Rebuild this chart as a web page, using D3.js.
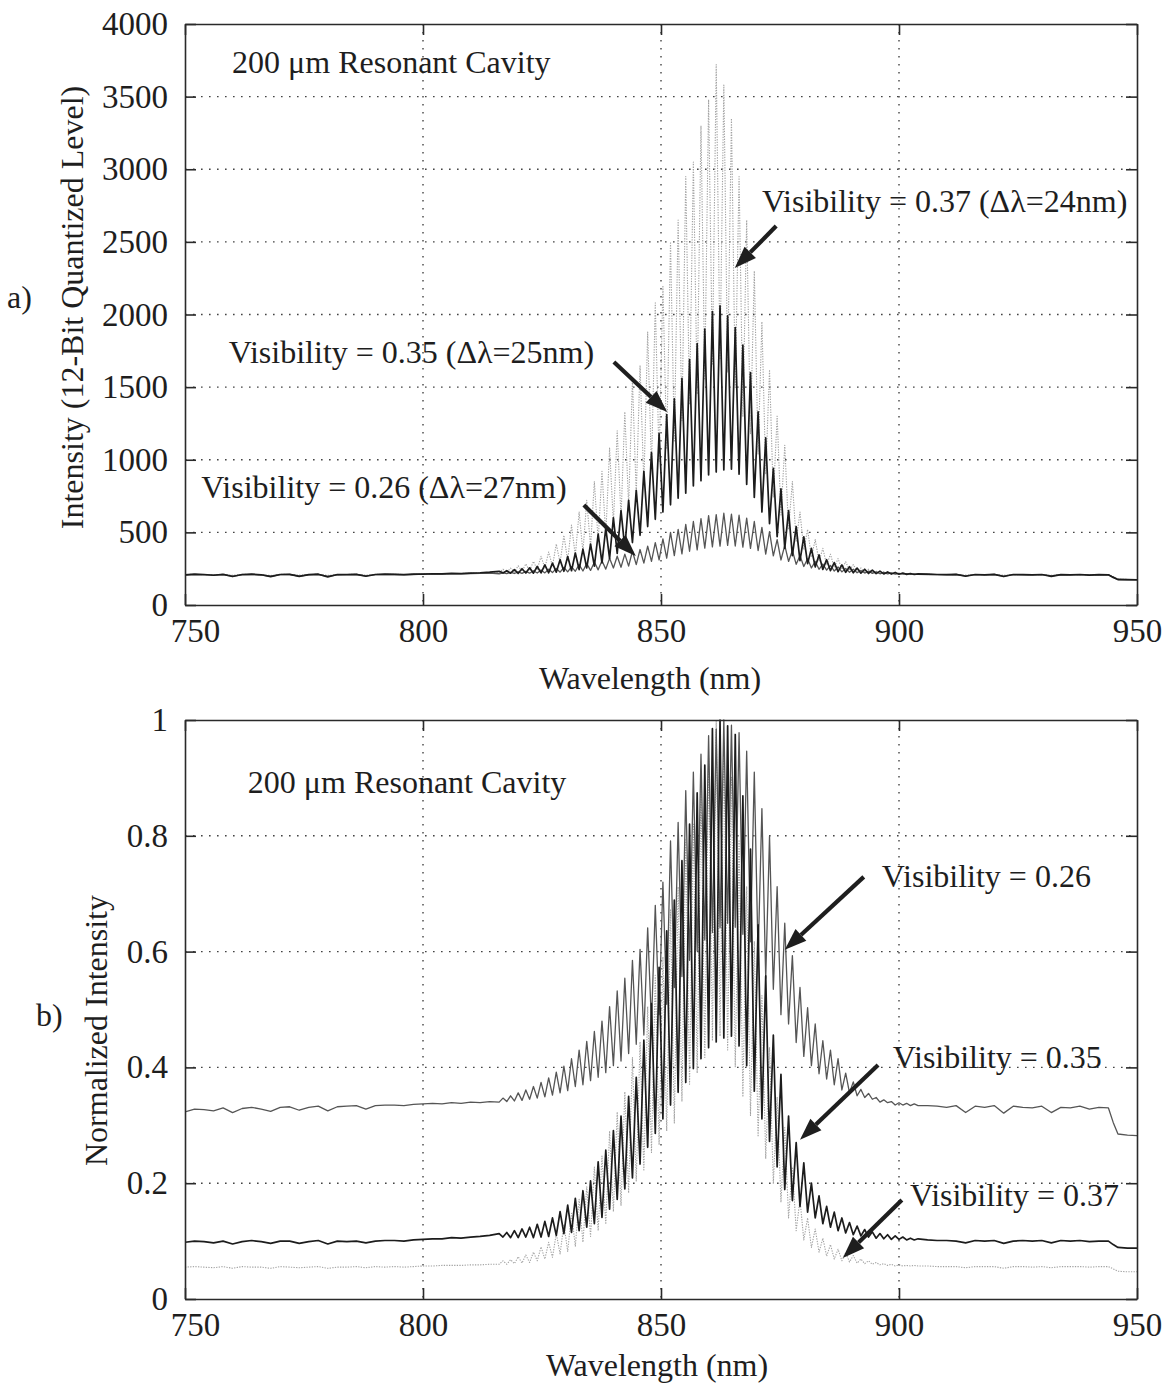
<!DOCTYPE html>
<html><head><meta charset="utf-8">
<script src="https://cdn.jsdelivr.net/npm/d3@7"></script>
<style>
body{margin:0;background:#fff;}
text{font-family:"Liberation Serif","Times New Roman",serif;fill:#1e1e1e;}
</style>
</head><body>
<svg id="chart" width="1173" height="1389"></svg>
<script>
// ---------------- DATA ----------------
const xTicks = [750, 800, 850, 900, 950];
const yTicksA = [0, 500, 1000, 1500, 2000, 2500, 3000, 3500, 4000];
const yTicksB = [0, 0.2, 0.4, 0.6, 0.8, 1];
const yTickLabelsB = ["0", "0.2", "0.4", "0.6", "0.8", "1"];

const nmLeft = [750,752,754,756,758,760,762,764,766,768,770,772,774,776,778,780,782,784,786,788,790,792,794,796,798,800,802,804,806,808,810,812,814];
const nmFringe = [816,816.8,817.6,818.4,819.2,820,820.8,821.6,822.4,823.2,824,824.8,825.6,826.4,827.2,828,828.8,829.6,830.4,831.2,832,832.8,833.6,834.4,835.2,836,836.8,837.6,838.4,839.2,840,840.8,841.6,842.4,843.2,844,844.8,845.6,846.4,847.2,848,848.8,849.6,850.4,851.2,852,852.8,853.6,854.4,855.2,856,856.8,857.6,858.4,859.2,860,860.8,861.6,862.4,863.2,864,864.8,865.6,866.4,867.2,868,868.8,869.6,870.4,871.2,872,872.8,873.6,874.4,875.2,876,876.8,877.6,878.4,879.2,880,880.8,881.6,882.4,883.2,884,884.8,885.6,886.4,887.2,888,888.8,889.6,890.4,891.2,892,892.8,893.6,894.4,895.2,896,896.8,897.6,898.4,899.2,900,900.8,901.6,902.4,903.2,904];
const nmRight = [906,908,910,912,914,916,918,920,922,924,926,928,930,932,934,936,938,940,942,944,945,946,948,950];

// Panel a) intensity (12-bit level)
const a035Left = [208,212,210,205,211,196,210,212,208,195,210,211,197,209,212,194,210,209,211,198,210,212,211,209,212,213,215,214,218,216,220,222,226];
const a035Fringe = [232,221,236,219,244,218,250,220,256,219,265,221,276,222,288,226,312,232,334,236,358,244,385,255,420,268,488,290,530,320,600,355,650,392,720,430,790,480,920,540,1050,590,1180,640,1310,690,1420,735,1560,770,1690,820,1800,855,1900,895,2020,915,2060,930,1990,935,1910,900,1790,830,1600,740,1330,640,1150,560,940,470,800,390,650,340,540,305,470,285,390,262,345,245,312,236,292,230,276,225,264,222,254,219,246,217,240,216,233,214,228,213,224,212,220,211,217,210,214];
const a035Right = [212,210,209,211,198,210,208,211,196,210,209,207,210,197,209,208,210,206,209,208,190,176,175,174];

const a037Left = [210,211,209,207,212,205,211,210,209,203,211,210,206,210,211,204,209,210,212,205,211,210,212,210,211,214,214,215,217,217,219,221,222];
const a037Fringe = [222,246,224,254,227,270,232,283,236,300,245,335,255,365,268,420,290,480,305,550,340,640,365,720,400,850,440,920,480,1080,560,1200,600,1330,680,1550,760,1650,830,1880,940,2080,990,2200,1080,2500,1130,2650,1270,2950,1380,3050,1450,3300,1550,3480,1660,3720,1690,3580,1600,3350,1490,2950,1300,2650,1180,2300,1040,1950,900,1620,740,1300,620,1100,520,850,440,640,380,520,330,450,300,390,275,350,258,320,245,298,238,278,232,255,226,246,222,235,218,228,215,222,213,218,212,216,211,214,211];
const a037Right = [211,210,210,209,206,210,209,210,205,209,210,208,209,205,210,209,209,207,208,208,196,178,176,175];

const a026Left = [206,209,208,206,209,199,208,210,207,198,209,210,199,208,210,197,208,209,210,200,209,210,210,208,210,212,213,213,215,215,217,218,220];
const a026Fringe = [215,222,216,225,217,228,218,232,219,236,220,241,221,246,223,252,226,258,228,264,232,278,234,285,238,295,242,305,247,322,255,336,260,350,268,370,278,382,288,405,300,430,310,455,322,500,340,520,352,555,370,575,380,595,392,615,400,622,405,632,410,626,406,618,398,598,390,575,375,535,350,505,338,450,310,410,300,375,280,340,265,318,255,300,246,282,240,272,234,262,228,252,225,246,222,238,220,233,218,228,215,224,214,221,212,218,212,216,211,215,211];
const a026Right = [210,209,208,210,200,209,208,210,199,209,208,207,209,200,208,207,209,206,208,207,192,174,173,172];

// Panel b) normalized intensity
const b026Left = [.323,.328,.327,.325,.330,.322,.329,.331,.328,.324,.331,.332,.326,.331,.333,.325,.332,.333,.334,.328,.334,.335,.335,.334,.336,.337,.338,.337,.339,.338,.340,.339,.341];
const b026Fringe = [.340,.347,.341,.351,.342,.356,.343,.361,.345,.367,.347,.374,.349,.382,.352,.392,.356,.402,.360,.415,.367,.430,.370,.445,.377,.462,.383,.480,.391,.505,.403,.532,.411,.554,.424,.585,.440,.604,.456,.641,.475,.680,.491,.720,.509,.791,.538,.823,.557,.878,.585,.910,.601,.941,.620,.973,.633,.984,.641,1.0,.649,.991,.642,.978,.630,.946,.617,.910,.593,.847,.554,.799,.535,.712,.491,.649,.475,.593,.443,.538,.419,.503,.403,.475,.389,.446,.380,.430,.370,.415,.361,.390,.356,.375,.351,.362,.348,.355,.345,.348,.340,.344,.339,.341,.335,.339,.335,.338,.334,.337,.334];
const b026Right = [.334,.333,.331,.334,.322,.333,.331,.334,.321,.333,.331,.330,.333,.322,.331,.330,.333,.328,.331,.330,.305,.285,.283,.282];

const b035Left = [.098,.100,.099,.097,.100,.095,.099,.101,.099,.096,.100,.100,.096,.099,.101,.095,.100,.099,.100,.097,.100,.101,.101,.100,.102,.103,.104,.104,.106,.105,.107,.108,.110];
const b035Fringe = [.113,.107,.115,.106,.118,.106,.121,.107,.124,.106,.129,.107,.134,.108,.140,.110,.151,.113,.162,.115,.174,.118,.187,.124,.204,.130,.237,.141,.257,.155,.291,.172,.316,.190,.350,.209,.383,.233,.447,.262,.510,.286,.573,.311,.636,.335,.689,.357,.757,.374,.820,.398,.874,.415,.922,.434,.985,.444,1.0,.451,.990,.454,.975,.437,.869,.403,.777,.359,.646,.311,.558,.272,.456,.228,.388,.189,.316,.170,.270,.160,.235,.150,.200,.140,.178,.130,.160,.124,.150,.118,.140,.114,.132,.111,.126,.109,.120,.107,.116,.105,.113,.104,.111,.103,.109,.103,.107,.102,.105,.102,.104];
const b035Right = [.102,.101,.101,.100,.097,.101,.100,.101,.096,.100,.101,.100,.101,.097,.101,.100,.101,.099,.100,.100,.094,.089,.088,.088];

const b037Left = [.055,.056,.055,.054,.056,.053,.056,.055,.055,.053,.056,.055,.054,.055,.056,.053,.055,.055,.056,.054,.056,.055,.056,.055,.056,.057,.057,.058,.058,.058,.059,.059,.060];
const b037Fringe = [.060,.066,.060,.068,.061,.073,.062,.076,.063,.081,.066,.090,.069,.098,.072,.113,.078,.129,.082,.148,.091,.172,.098,.194,.108,.228,.118,.247,.129,.290,.151,.323,.161,.358,.183,.417,.204,.444,.223,.505,.253,.559,.266,.591,.290,.672,.304,.712,.341,.793,.371,.820,.390,.887,.417,.935,.446,1.0,.454,.962,.430,.901,.401,.793,.349,.712,.317,.618,.280,.524,.242,.435,.199,.349,.167,.296,.140,.228,.118,.172,.102,.140,.089,.121,.081,.105,.074,.094,.069,.086,.066,.080,.064,.075,.062,.069,.061,.066,.060,.063,.059,.061,.058,.060,.057,.059,.057,.058,.057,.058,.057];
const b037Right = [.057,.056,.056,.056,.054,.056,.056,.056,.053,.056,.056,.055,.056,.054,.056,.056,.056,.055,.056,.056,.052,.048,.047,.047];

// Annotations (data coordinates)
const annA = [
  {t:"200 \u03BCm Resonant Cavity", nm:759.9, v:3663},
  {t:"Visibility = 0.37 (\u0394\u03BB=24nm)", nm:871.2, v:2706},
  {t:"Visibility = 0.35 (\u0394\u03BB=25nm)", nm:759.2, v:1666},
  {t:"Visibility = 0.26 (\u0394\u03BB=27nm)", nm:753.4, v:737}
];
const arrowsA = [
  {nm1:874.2, v1:2609, nm2:865.5, v2:2320},
  {nm1:840.1, v1:1673, nm2:851.3, v2:1329},
  {nm1:833.8, v1:688,  nm2:844.7, v2:337}
];
const annB = [
  {t:"200 \u03BCm Resonant Cavity", nm:763.2, v:0.874},
  {t:"Visibility = 0.26", nm:896.4, v:0.712},
  {t:"Visibility = 0.35", nm:898.7, v:0.399},
  {t:"Visibility = 0.37", nm:902.3, v:0.161}
];
const arrowsB = [
  {nm1:892.6, v1:0.729, nm2:876.0, v2:0.603},
  {nm1:895.6, v1:0.404, nm2:879.2, v2:0.275},
  {nm1:900.6, v1:0.171, nm2:888.2, v2:0.071}
];

// ---------------- DRAW ----------------
const svg = d3.select("#chart");
const nmAll = nmLeft.concat(nmFringe, nmRight);
const FS = 32;      // annotation / title size
const TFS = 33;     // tick label size

const styles = {
  v37: {stroke:"#a2a2a2", width:1.1, dash:"1.3,1.3"},
  v26: {stroke:"#555555", width:1.3, dash:null},
  v35: {stroke:"#1c1c1c", width:1.7, dash:null}
};

function drawArrow(g, x1, y1, x2, y2) {
  const ang = Math.atan2(y2 - y1, x2 - x1);
  const L = 22, W = 8;
  const bx = x2 - L * Math.cos(ang), by = y2 - L * Math.sin(ang);
  g.append("line").attr("x1", x1).attr("y1", y1).attr("x2", bx).attr("y2", by)
    .attr("stroke", "#1e1e1e").attr("stroke-width", 4.2);
  g.append("path")
    .attr("d", `M${x2},${y2}L${bx + W * Math.sin(ang)},${by - W * Math.cos(ang)}L${bx - W * Math.sin(ang)},${by + W * Math.cos(ang)}Z`)
    .attr("fill", "#1e1e1e");
}

function panel(cfg) {
  const left = 185, right = 1137;
  const x = d3.scaleLinear().domain([750, 950]).range([left, right]);
  const y = d3.scaleLinear().domain(cfg.yDomain).range([cfg.bottom, cfg.top]);
  const g = svg.append("g");

  // dotted grid
  g.selectAll(null).data(xTicks.slice(1, -1)).join("line")
    .attr("x1", d => x(d)).attr("x2", d => x(d)).attr("y1", cfg.top).attr("y2", cfg.bottom)
    .attr("stroke", "#444").attr("stroke-width", 1.4).attr("stroke-dasharray", "1.6,6.4");
  g.selectAll(null).data(cfg.yTicks.slice(1, -1)).join("line")
    .attr("x1", left).attr("x2", right).attr("y1", d => y(d)).attr("y2", d => y(d))
    .attr("stroke", "#444").attr("stroke-width", 1.4).attr("stroke-dasharray", "1.6,6.4");

  // series
  const line = d3.line().x(d => x(d[0])).y(d => y(d[1]));
  const clipId = "clip" + cfg.id;
  svg.append("clipPath").attr("id", clipId).append("rect")
    .attr("x", left).attr("y", cfg.top - 1).attr("width", right - left).attr("height", cfg.bottom - cfg.top + 2);
  cfg.series.forEach(s => {
    const st = styles[s.key];
    const pts = d3.zip(nmAll, s.values);
    g.append("path").datum(pts).attr("d", line)
      .attr("clip-path", `url(#${clipId})`)
      .attr("fill", "none").attr("stroke", st.stroke).attr("stroke-width", st.width)
      .attr("stroke-linejoin", "round")
      .attr("stroke-dasharray", st.dash);
  });

  // axes (ticks inward, full box)
  const axStyle = sel => {
    sel.select(".domain").attr("stroke", "#2a2a2a").attr("stroke-width", 1.6);
    sel.selectAll(".tick line").attr("stroke", "#2a2a2a").attr("stroke-width", 1.6);
    sel.selectAll("text").attr("font-size", TFS).attr("fill", "#1e1e1e")
      .attr("font-family", '"Liberation Serif","Times New Roman",serif');
  };
  const bx = g.append("g").attr("transform", `translate(0,${cfg.bottom})`)
    .call(d3.axisBottom(x).tickValues(xTicks).tickSize(-11).tickSizeOuter(0).tickPadding(14).tickFormat(d3.format("d")))
    .call(axStyle);
  // first label sits right of the corner, as in the reference
  bx.selectAll(".tick text").filter(d => d === 750).attr("dx", 10);
  g.append("g").attr("transform", `translate(0,${cfg.top})`)
    .call(d3.axisTop(x).tickValues(xTicks).tickSize(-11).tickSizeOuter(0).tickFormat(""))
    .call(axStyle);
  g.append("g").attr("transform", `translate(${left},0)`)
    .call(d3.axisLeft(y).tickValues(cfg.yTicks).tickSize(-11).tickSizeOuter(0).tickPadding(17)
      .tickFormat((d, i) => cfg.yLabels[i]))
    .call(axStyle);
  g.append("g").attr("transform", `translate(${right},0)`)
    .call(d3.axisRight(y).tickValues(cfg.yTicks).tickSize(-11).tickSizeOuter(0).tickFormat(""))
    .call(axStyle);

  // axis titles
  g.append("text").attr("x", cfg.xTitleX).attr("y", cfg.bottom + cfg.xTitleDy)
    .attr("text-anchor", "middle").attr("font-size", FS).text("Wavelength (nm)");
  g.append("text").attr("transform", `translate(${cfg.yTitleX},${(cfg.top + cfg.bottom) / 2 + cfg.yTitleDy}) rotate(-90)`)
    .attr("text-anchor", "middle").attr("font-size", FS).text(cfg.yTitle);
  g.append("text").attr("x", cfg.tagX).attr("y", cfg.tagY).attr("font-size", FS).text(cfg.tag);

  // annotations
  cfg.ann.forEach(a => {
    g.append("text").attr("x", x(a.nm)).attr("y", y(a.v)).attr("font-size", FS).text(a.t);
  });
  cfg.arrows.forEach(a => drawArrow(g, x(a.nm1), y(a.v1), x(a.nm2), y(a.v2)));
}

panel({
  id: "A", top: 24, bottom: 605, yDomain: [0, 4000],
  yTicks: yTicksA, yLabels: yTicksA.map(String),
  yTitle: "Intensity (12-Bit Quantized Level)", yTitleX: 83, yTitleDy: -7,
  xTitleX: 650, xTitleDy: 84,
  tag: "a)", tagX: 7, tagY: 308,
  series: [
    {key: "v37", values: a037Left.concat(a037Fringe, a037Right)},
    {key: "v26", values: a026Left.concat(a026Fringe, a026Right)},
    {key: "v35", values: a035Left.concat(a035Fringe, a035Right)}
  ],
  ann: annA, arrows: arrowsA
});

panel({
  id: "B", top: 720, bottom: 1299, yDomain: [0, 1],
  yTicks: yTicksB, yLabels: yTickLabelsB,
  yTitle: "Normalized Intensity", yTitleX: 107, yTitleDy: 21,
  xTitleX: 657, xTitleDy: 77,
  tag: "b)", tagX: 36, tagY: 1026,
  series: [
    {key: "v37", values: b037Left.concat(b037Fringe, b037Right)},
    {key: "v26", values: b026Left.concat(b026Fringe, b026Right)},
    {key: "v35", values: b035Left.concat(b035Fringe, b035Right)}
  ],
  ann: annB, arrows: arrowsB
});
</script>
</body></html>
